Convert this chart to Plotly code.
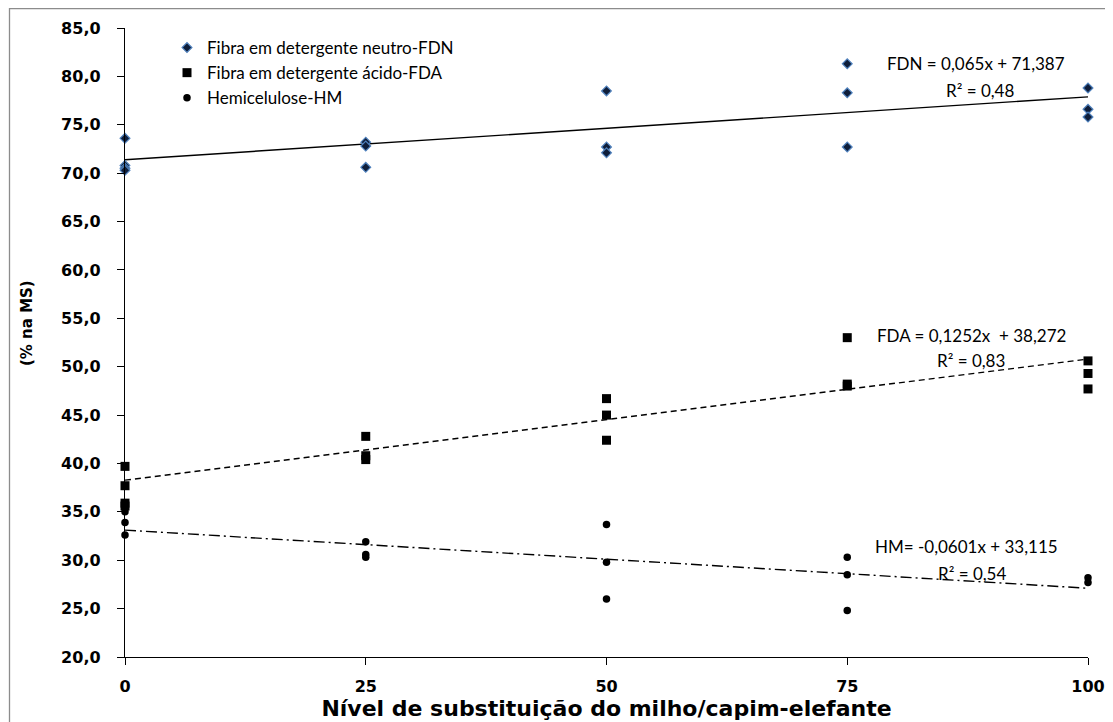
import plotly.graph_objects as go

# ---------------- data ----------------
nivel = [0, 25, 50, 75, 100]
fdn_rep = [[73.6, 70.8, 70.5, 70.3], [73.2, 72.8, 70.6], [78.5, 72.7, 72.1], [81.3, 78.3, 72.7], [78.8, 76.6, 75.8]]
fda_rep = [[39.7, 37.7, 35.9, 35.6], [42.8, 40.8, 40.4], [46.7, 45.0, 42.4], [53.0, 48.2, 48.0], [50.6, 49.3, 47.7]]
hm_rep = [[35.0, 33.9, 32.6], [31.9, 30.6, 30.3], [33.7, 29.8, 26.0], [30.3, 28.5, 24.8], [28.2, 27.7]]

series_names = ["Fibra em detergente neutro-FDN", "Fibra em detergente ácido-FDA", "Hemicelulose-HM"]
trend_slope = [0.065, 0.1252, -0.0601]
trend_intercept = [71.387, 38.272, 33.115]
eq_labels = ["FDN = 0,065x + 71,387", "FDA = 0,1252x  + 38,272", "HM= -0,0601x + 33,115"]
r2_labels = ["R² = 0,48", "R² = 0,83", "R² = 0,54"]

y_ticks = [20, 25, 30, 35, 40, 45, 50, 55, 60, 65, 70, 75, 80, 85]
x_title = "Nível de substituição do milho/capim-elefante"
y_title = "(% na MS)"


def flatten(rep):
    xs, ys = [], []
    for lvl, vals in zip(nivel, rep):
        for v in vals:
            xs.append(lvl)
            ys.append(v)
    return xs, ys


fig = go.Figure()

# trend lines
dashes = ["solid", "6px,4px", "11px,4px,2px,4px"]
x_line = [nivel[0], nivel[-1]]
for i in range(3):
    fig.add_trace(go.Scatter(
        x=x_line,
        y=[trend_intercept[i] + trend_slope[i] * xv for xv in x_line],
        mode="lines", line=dict(color="black", width=1.4, dash=dashes[i]),
        showlegend=False, hoverinfo="skip", cliponaxis=False))

marker_styles = [
    dict(symbol="diamond", size=7.5, color="#0f1e3a", line=dict(color="#4f81bd", width=1.2)),
    dict(symbol="square", size=9, color="black", line=dict(width=0)),
    dict(symbol="circle", size=7.5, color="black", line=dict(width=0)),
]
for i, rep in enumerate([fdn_rep, fda_rep, hm_rep]):
    xs, ys = flatten(rep)
    fig.add_trace(go.Scatter(
        x=xs, y=ys, mode="markers", name=series_names[i],
        marker=marker_styles[i], legendgroup=f"g{i}", cliponaxis=False))

# screen geometry of plot area (page has an 8px body margin)
OFF = 8
W0, W1, H0, H1 = 125, 1088, 28, 657
FIG_W, FIG_H = 1113 - OFF, 722 - OFF


def px(x):
    return (x - W0) / (W1 - W0)


def py(y):
    return 1 - (y - H0) / (H1 - H0)


eq_pos = [(976, 63), (971, 335), (966, 546)]
r2_pos = [(980, 90), (971, 360), (972, 573)]
for i in range(3):
    fig.add_annotation(x=px(eq_pos[i][0]), y=py(eq_pos[i][1]), xref="paper", yref="paper",
                       text=eq_labels[i], showarrow=False, xanchor="center", yanchor="middle",
                       font=dict(family="Lato", size=17, color="black"))
    fig.add_annotation(x=px(r2_pos[i][0]), y=py(r2_pos[i][1]), xref="paper", yref="paper",
                       text=r2_labels[i], showarrow=False, xanchor="center", yanchor="middle",
                       font=dict(family="Lato", size=17, color="black"))

# y-axis title (placed as in the original, slightly above the axis centre)
fig.add_annotation(x=px(27), y=py(323), xref="paper", yref="paper", text=y_title,
                   showarrow=False, textangle=-90, xanchor="center", yanchor="middle",
                   font=dict(family="DejaVu Sans", size=15, color="black", weight="bold"))

# outer chart border
fig.add_shape(type="rect", xref="paper", yref="paper",
              x0=px(9.5), x1=px(1140), y0=py(740), y1=py(8.7),
              line=dict(color="#8c8c8c", width=1.3), fillcolor="rgba(0,0,0,0)", layer="below")

fig.update_layout(
    width=FIG_W, height=FIG_H,
    margin=dict(l=W0 - OFF, r=FIG_W - (W1 - OFF), t=H0 - OFF, b=FIG_H - (H1 - OFF), autoexpand=False),
    paper_bgcolor="white", plot_bgcolor="white",
    separators=",.",
    showlegend=True,
    legend=dict(x=px(167), y=py(30), xanchor="left", yanchor="top",
                font=dict(family="Lato", size=17, color="black"),
                bgcolor="rgba(0,0,0,0)", tracegroupgap=0, itemwidth=30),
    xaxis=dict(range=[0, 100], tickvals=nivel, ticktext=[str(v) for v in nivel],
               showgrid=False, zeroline=False, showline=True, linecolor="black", linewidth=1.4,
               ticks="outside", ticklen=7, tickwidth=1.2, tickcolor="black",
               ticklabelstandoff=8, automargin=False,
               tickfont=dict(family="DejaVu Sans", size=16, color="black", weight="bold"),
               title=dict(text=x_title,
                          font=dict(family="DejaVu Sans", size=22, color="black", weight="bold"),
                          standoff=2)),
    yaxis=dict(range=[20, 85], tickvals=y_ticks, tickformat=".1f",
               showgrid=False, zeroline=False, showline=True, linecolor="black", linewidth=1.4,
               ticks="outside", ticklen=7, tickwidth=1.2, tickcolor="black",
               ticklabelstandoff=13, automargin=False,
               tickfont=dict(family="DejaVu Sans", size=16, color="black", weight="bold")),
)

fig.write_html("out.html")
